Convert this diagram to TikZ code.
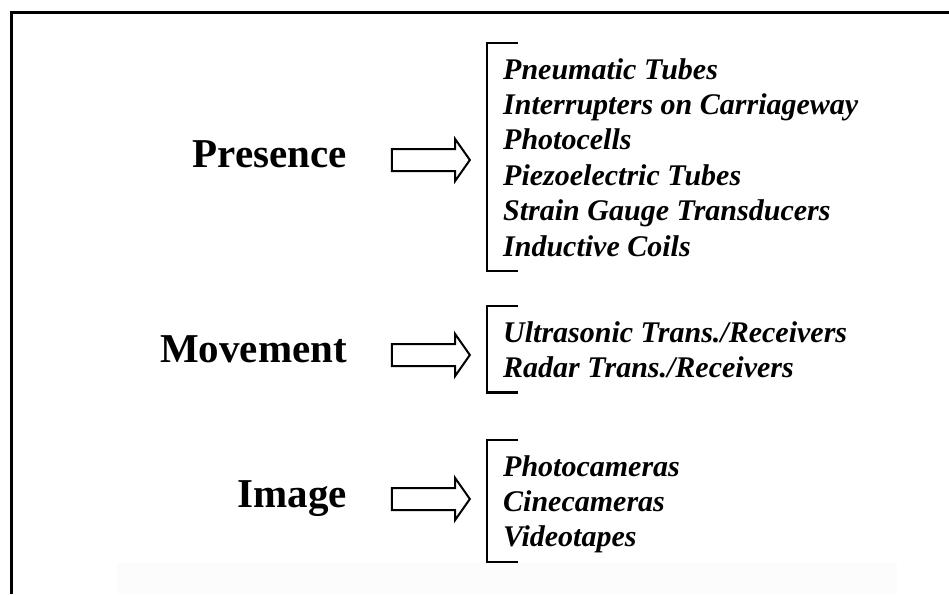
\documentclass[tikz,border=0pt]{standalone}
\usepackage{fontspec}
\setmainfont{Liberation Serif}
\usetikzlibrary{shapes.arrows}

\tikzset{
  sensor/.style={font=\fontsize{41}{49}\selectfont\bfseries, anchor=base east, inner sep=0pt},
  devices/.style={font=\fontsize{30}{35.4}\selectfont\bfseries\itshape, align=left,
    anchor=north west, inner xsep=16pt, inner ysep=15pt, text depth=0pt},
  hollow arrow/.style={draw, line width=2pt, single arrow, single arrow head extend=10pt,
    single arrow tip angle=110, minimum height=78pt, inner sep=10pt},
  bracket/.style={line width=2.3pt}
}

\begin{document}
\begin{tikzpicture}[x=1pt, y=-1pt]
    \useasboundingbox (0,0) rectangle (949,594);
    % faint band at the foot
    \fill[black!1] (117,563) rectangle (897,594);
    % frame: top and left edges only
    \draw[line width=3pt] (11,594) -- (11,13) -- (949,13);

    \node[sensor] (presence) at (347,167) {Presence};
    \node[sensor] (movement) at (347,362) {Movement};
    \node[sensor] (image) at (347,507) {Image};

    \node[hollow arrow] (presence-arrow) at (427,160) {};
    \node[hollow arrow] (movement-arrow) at (427,355) {};
    \node[hollow arrow] (image-arrow) at (427,499) {};

    \node[devices] (presence-list) at (487,43) {
        Pneumatic Tubes\\
        Interrupters on Carriageway\\
        Photocells\\
        Piezoelectric Tubes\\
        Strain Gauge Transducers\\
        Inductive Coils};
    \node[devices] (movement-list) at (487,306) {
        Ultrasonic Trans./Receivers\\
        Radar Trans./Receivers};
    \node[devices] (image-list) at (487,440) {
        Photocameras\\
        Cinecameras\\
        Videotapes};

    % square brackets on the left of each list
    \foreach \l in {presence-list, movement-list, image-list}
      \draw[bracket] ([xshift=31pt]\l.north west) -- (\l.north west)
        -- (\l.south west) -- ++(31,0);
\end{tikzpicture}
\end{document}
